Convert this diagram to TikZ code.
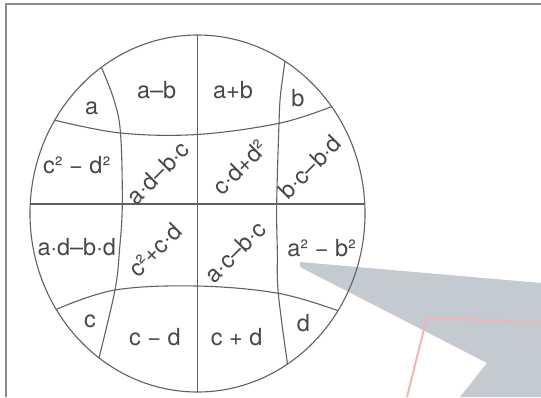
\documentclass[tikz,border=0pt]{standalone}
\usepackage{fontspec}
\setmainfont{TeX Gyre Heros}
\definecolor{wmgray}{RGB}{196,202,209}
\definecolor{wmred}{RGB}{242,180,180}
\begin{document}
\begin{tikzpicture}[x=1pt,y=-1pt,
  line/.style={draw=black!62, line width=1.1pt},
  lbl/.style={text=black!72, font=\fontsize{23.5}{23.5}\selectfont, inner sep=0pt},
  diag/.style={lbl, rotate=45}]
\useasboundingbox (0,0) rectangle (541,397);
\fill[white] (0,0) rectangle (541,397);
% frame
\draw[black!45, line width=1.5pt] (6,397) -- (6,4) -- (541,4);
% background watermark
\fill[wmgray] (300,262) -- (541,283) -- (541,397) -- (460,397) -- (487,363) -- (300,267) -- cycle;
\coordinate (r1) at (541,323);
\coordinate (r2) at (427,317);
\coordinate (r3) at (407,397);
\draw[wmred, line width=2pt] (r1) -- (r2) -- (r3);
% circle
\coordinate (O) at (197.5,213.5);
\draw[line] (O) ellipse [x radius=167.5, y radius=178.5];
% straight lines
\coordinate (hl) at (30.2,204);
\coordinate (hr) at (364.8,204);
\coordinate (vt) at (197.5,35);
\coordinate (vb) at (197.5,392);
\draw[line] (hl) -- (hr);
\draw[line] (vt) -- (vb);
% curved lines
\draw[line] plot[smooth, tension=0.6] coordinates {(101.4,67.3) (114,100) (120.5,133) (122.3,204) (119.5,250) (115,290) (99,357.9)};
\draw[line] plot[smooth, tension=0.6] coordinates {(285,61.3) (280.5,95) (279,123.3) (276.7,204) (277.3,250) (278.3,293.3) (287.5,364.1)};
\draw[line] plot[smooth, tension=0.6] coordinates {(54.7,120.2) (120.5,133) (197,134.5) (279,123.3) (331.6,106.6)};
\draw[line] plot[smooth, tension=0.6] coordinates {(56.2,309.4) (115,290) (197,286) (278.3,293.3) (338,310.7)};
% labels
\node[lbl] (t1) at (91.7,108.3) {a};
\node[lbl] (t2) at (156.7,90) {a–b};
\node[lbl] (t3) at (233,90) {a+b};
\node[lbl] (t4) at (298,98) {b};
\node[lbl] (t5) at (76.7,165) {c² − d²};
\node[diag] (t6) at (158,173) {a·d–b·c};
\node[diag] (t7) at (240,167) {c·d+d²};
\node[diag] (t8) at (310,167) {b·c–b·d};
\node[lbl] (t9) at (76.7,246.7) {a·d–b·d};
\node[diag] (t10) at (155,250) {c²+c·d};
\node[diag] (t11) at (235,251.7) {a·c–b·c};
\node[lbl] (t12) at (321.7,248.3) {a² − b²};
\node[lbl] (t13) at (90,321.7) {c};
\node[lbl] (t14) at (155,336.7) {c − d};
\node[lbl] (t15) at (236.7,336.7) {c + d};
\node[lbl] (t16) at (303.3,323.3) {d};
\end{tikzpicture}
\end{document}
